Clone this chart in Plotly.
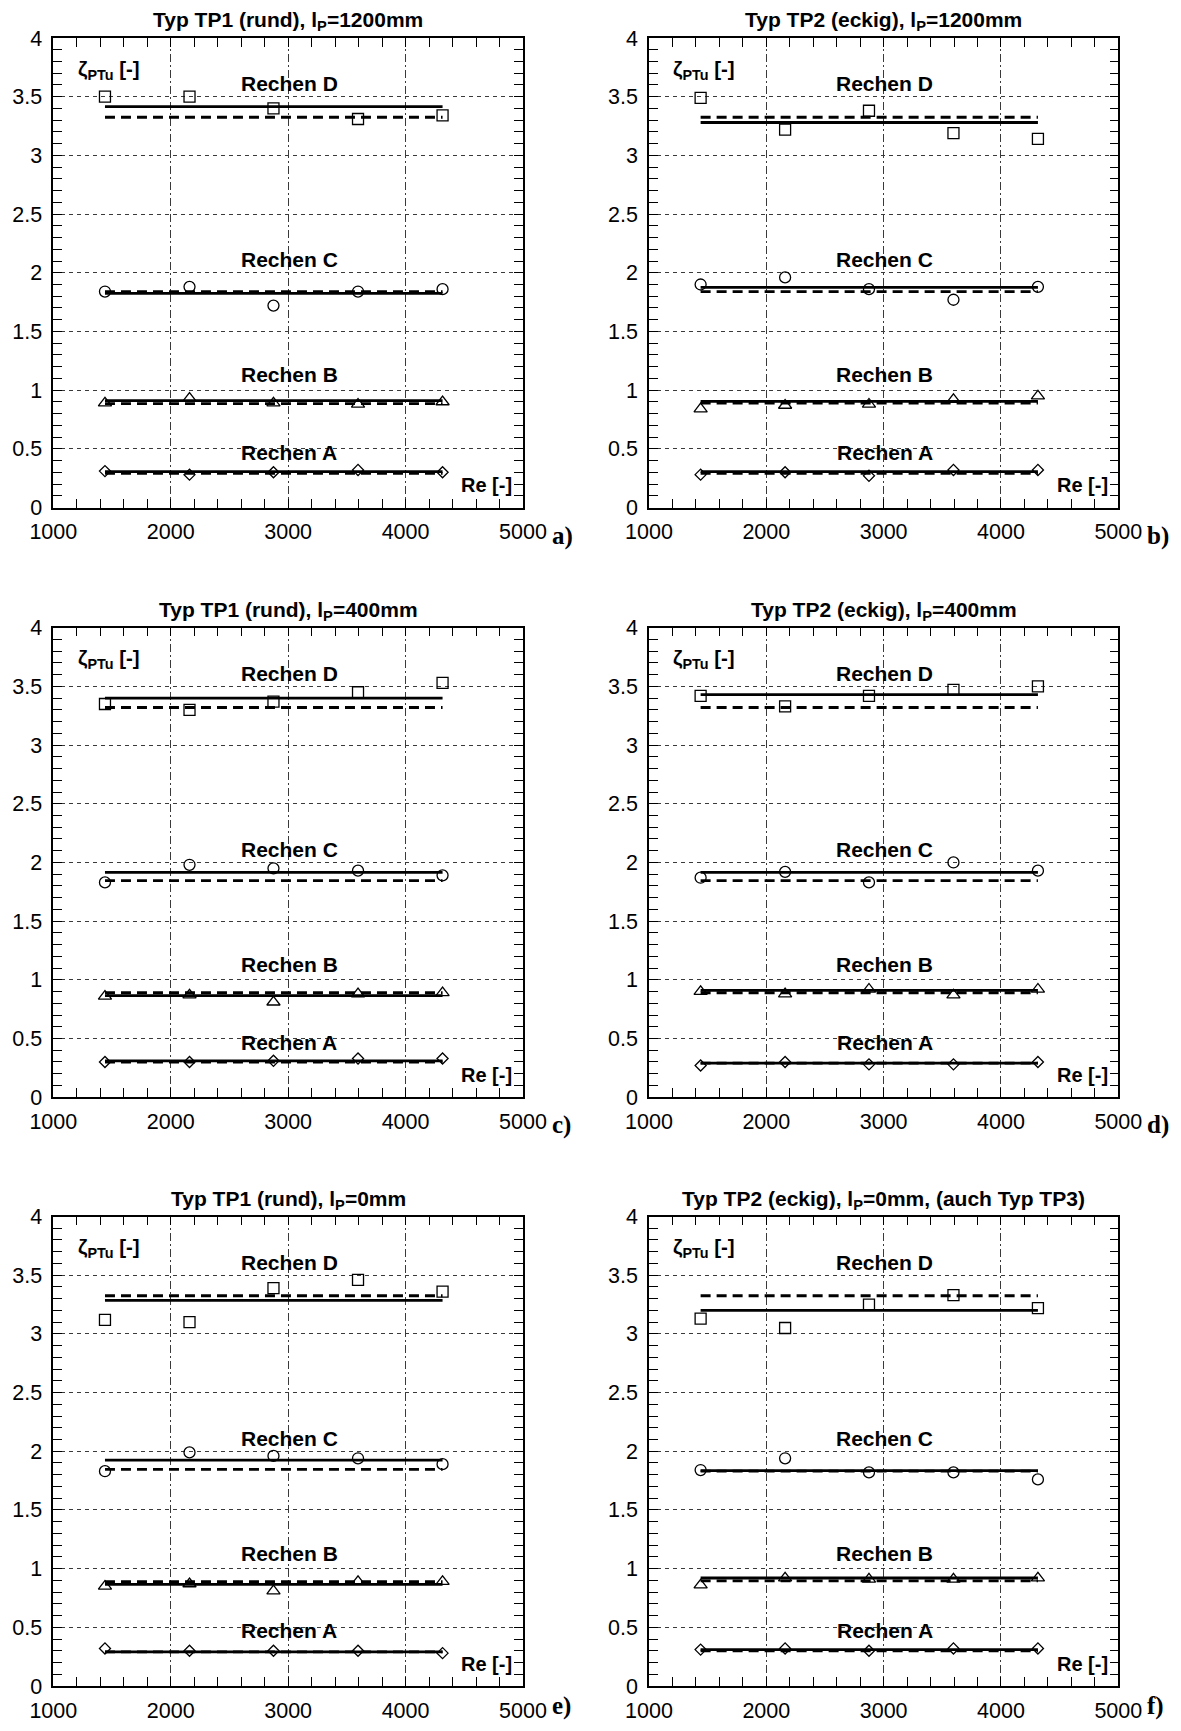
import plotly.graph_objects as go

# ---------------- data ----------------
RE = [1440, 2160, 2875, 3595, 4315]

PANELS = ["a", "b", "c", "d", "e", "f"]
TITLES = [
    "Typ TP1 (rund), l<sub>P</sub>=1200mm",
    "Typ TP2 (eckig), l<sub>P</sub>=1200mm",
    "Typ TP1 (rund), l<sub>P</sub>=400mm",
    "Typ TP2 (eckig), l<sub>P</sub>=400mm",
    "Typ TP1 (rund), l<sub>P</sub>=0mm",
    "Typ TP2 (eckig), l<sub>P</sub>=0mm, (auch Typ TP3)",
]

# measured zeta_PTu values, panels a..f
zeta_D = [
    [3.50, 3.50, 3.40, 3.31, 3.34],
    [3.49, 3.22, 3.38, 3.19, 3.14],
    [3.35, 3.30, 3.37, 3.45, 3.53],
    [3.42, 3.33, 3.42, 3.47, 3.50],
    [3.12, 3.10, 3.39, 3.46, 3.36],
    [3.13, 3.05, 3.25, 3.33, 3.22],
]
zeta_C = [
    [1.84, 1.88, 1.72, 1.84, 1.86],
    [1.90, 1.96, 1.86, 1.77, 1.88],
    [1.83, 1.98, 1.95, 1.93, 1.89],
    [1.87, 1.92, 1.83, 2.00, 1.93],
    [1.83, 1.99, 1.96, 1.94, 1.89],
    [1.84, 1.94, 1.82, 1.82, 1.76],
]
zeta_B = [
    [0.89, 0.93, 0.89, 0.88, 0.90],
    [0.84, 0.87, 0.88, 0.92, 0.95],
    [0.86, 0.87, 0.81, 0.88, 0.89],
    [0.90, 0.88, 0.92, 0.87, 0.92],
    [0.85, 0.87, 0.81, 0.89, 0.89],
    [0.86, 0.92, 0.91, 0.91, 0.92],
]
zeta_A = [
    [0.31, 0.28, 0.30, 0.32, 0.30],
    [0.28, 0.30, 0.27, 0.32, 0.32],
    [0.30, 0.30, 0.31, 0.33, 0.33],
    [0.27, 0.30, 0.28, 0.28, 0.30],
    [0.32, 0.30, 0.30, 0.30, 0.28],
    [0.31, 0.32, 0.30, 0.32, 0.32],
]

# solid lines: mean value of each panel
mean_D = [3.415, 3.28, 3.40, 3.43, 3.285, 3.20]
mean_C = [1.825, 1.875, 1.915, 1.915, 1.925, 1.835]
mean_B = [0.91, 0.905, 0.865, 0.91, 0.865, 0.92]
mean_A = [0.305, 0.305, 0.31, 0.29, 0.29, 0.31]

# dashed lines: reference value
ref_D = [3.325, 3.325, 3.32, 3.32, 3.325, 3.325]
ref_C = [1.84, 1.84, 1.845, 1.845, 1.845, 1.83]
ref_B = [0.885, 0.89, 0.89, 0.89, 0.89, 0.895]
ref_A = [0.29, 0.29, 0.30, 0.29, 0.29, 0.30]

RECHEN = ["D", "C", "B", "A"]
LABEL_Y = [3.61, 2.11, 1.13, 0.47]
XTICKS = [1000, 2000, 3000, 4000, 5000]
YTICKS = [0, 0.5, 1, 1.5, 2, 2.5, 3, 3.5, 4]

# ---------------- layout geometry (page pixels) ----------------
PAGE_W, PAGE_H = 1181, 1731
BODY = 8  # default page margin of the html body
W, H = PAGE_W - 2 * BODY, PAGE_H - 2 * BODY
COL_X = [(53.3, 523.0), (649.0, 1118.3)]
ROW_TOP = [38.0, 627.7, 1216.5]
PH = 469.5


def px(xp):
    return (xp - BODY) / W


def py(yp):
    return 1 - (yp - BODY) / H


FONT = "Liberation Sans, Arial, Helvetica, sans-serif"
SERIF = "Liberation Serif, Times New Roman, serif"

series = {
    "D": (zeta_D, mean_D, ref_D, "square-open", 11),
    "C": (zeta_C, mean_C, ref_C, "circle-open", 11),
    "B": (zeta_B, mean_B, ref_B, "triangle-up-open", 11.5),
    "A": (zeta_A, mean_A, ref_A, "diamond-open", 8.5),
}

fig = go.Figure()
annotations = []

for i, p in enumerate(PANELS):
    row, col = divmod(i, 2)
    x0, x1 = COL_X[col]
    top = ROW_TOP[row]
    bot = top + PH
    xa = "x" if i == 0 else f"x{i+1}"
    ya = "y" if i == 0 else f"y{i+1}"
    xkey = "xaxis" if i == 0 else f"xaxis{i+1}"
    ykey = "yaxis" if i == 0 else f"yaxis{i+1}"

    common = dict(
        ticks="inside", ticklen=9, tickwidth=1.2, tickcolor="black",
        showline=True, linecolor="black", linewidth=1.5, mirror="ticks",
        showgrid=True, gridcolor="#3a3a3a", gridwidth=1,
        zeroline=False, tickfont=dict(family=FONT, size=21.5, color="black"),
        automargin=False,
    )
    fig.layout[xkey] = dict(
        common, domain=[px(x0), px(x1)], anchor=ya, range=[1000, 5000],
        tickvals=XTICKS, griddash="8px,3px,2px,3px", ticklabelstandoff=4,
        minor=dict(dtick=200, tick0=1000, ticks="inside", ticklen=9,
                   tickwidth=1.2, tickcolor="black", showgrid=False),
    )
    fig.layout[ykey] = dict(
        common, domain=[py(bot), py(top)], anchor=xa, range=[0, 4],
        tickvals=YTICKS, griddash="4px,4px", ticklabelstandoff=5,
        minor=dict(dtick=0.1, tick0=0, ticks="inside", ticklen=9,
                   tickwidth=1.2, tickcolor="black", showgrid=False),
    )

    for r, ly in zip(RECHEN, LABEL_Y):
        vals, means, refs, sym, size = series[r]
        fig.add_trace(go.Scatter(
            x=[RE[0], RE[-1]], y=[refs[i], refs[i]], mode="lines",
            line=dict(color="black", width=2.8, dash="10px,6px"),
            xaxis=xa, yaxis=ya, showlegend=False, hoverinfo="skip"))
        fig.add_trace(go.Scatter(
            x=[RE[0], RE[-1]], y=[means[i], means[i]], mode="lines",
            line=dict(color="black", width=2.8),
            xaxis=xa, yaxis=ya, showlegend=False, hoverinfo="skip"))
        fig.add_trace(go.Scatter(
            x=RE, y=vals[i], mode="markers",
            marker=dict(symbol=sym, size=size, color="black",
                        line=dict(color="black", width=1.3)),
            xaxis=xa, yaxis=ya, showlegend=False))
        annotations.append(dict(
            xref=xa, yref=ya, x=3010, y=ly, text=f"<b>Rechen {r}</b>",
            showarrow=False, xanchor="center", yanchor="middle",
            font=dict(family=FONT, size=21, color="black")))

    # panel title
    annotations.append(dict(
        xref="paper", yref="paper", x=px((x0 + x1) / 2), y=py(top - 2),
        text=f"<b>{TITLES[i]}</b>", showarrow=False,
        xanchor="center", yanchor="bottom",
        font=dict(family=FONT, size=21, color="black")))
    # y label
    annotations.append(dict(
        xref=xa, yref=ya, x=1190, y=3.73, text="<b>ζ<sub>PTu</sub> [-]</b>",
        showarrow=False, xanchor="left", yanchor="middle",
        font=dict(family=FONT, size=20.5, color="black")))
    # x label
    annotations.append(dict(
        xref=xa, yref=ya, x=4925, y=0.19, text="<b>Re [-]</b>",
        showarrow=False, xanchor="right", yanchor="middle",
        font=dict(family=FONT, size=20, color="black")))
    # panel letter (kept inside the figure's bottom edge)
    letter_bottom = min(bot + 44, PAGE_H - BODY - 1)
    annotations.append(dict(
        xref="paper", yref="paper", x=px(x1 + 27), y=py(letter_bottom),
        text=f"<b>{p})</b>", showarrow=False, xanchor="left", yanchor="bottom",
        font=dict(family=SERIF, size=25, color="black")))

fig.update_layout(
    width=W, height=H,
    margin=dict(l=0, r=0, t=0, b=0, pad=0, autoexpand=False),
    paper_bgcolor="white", plot_bgcolor="white",
    annotations=annotations, showlegend=False,
)

fig.write_html("out.html")
